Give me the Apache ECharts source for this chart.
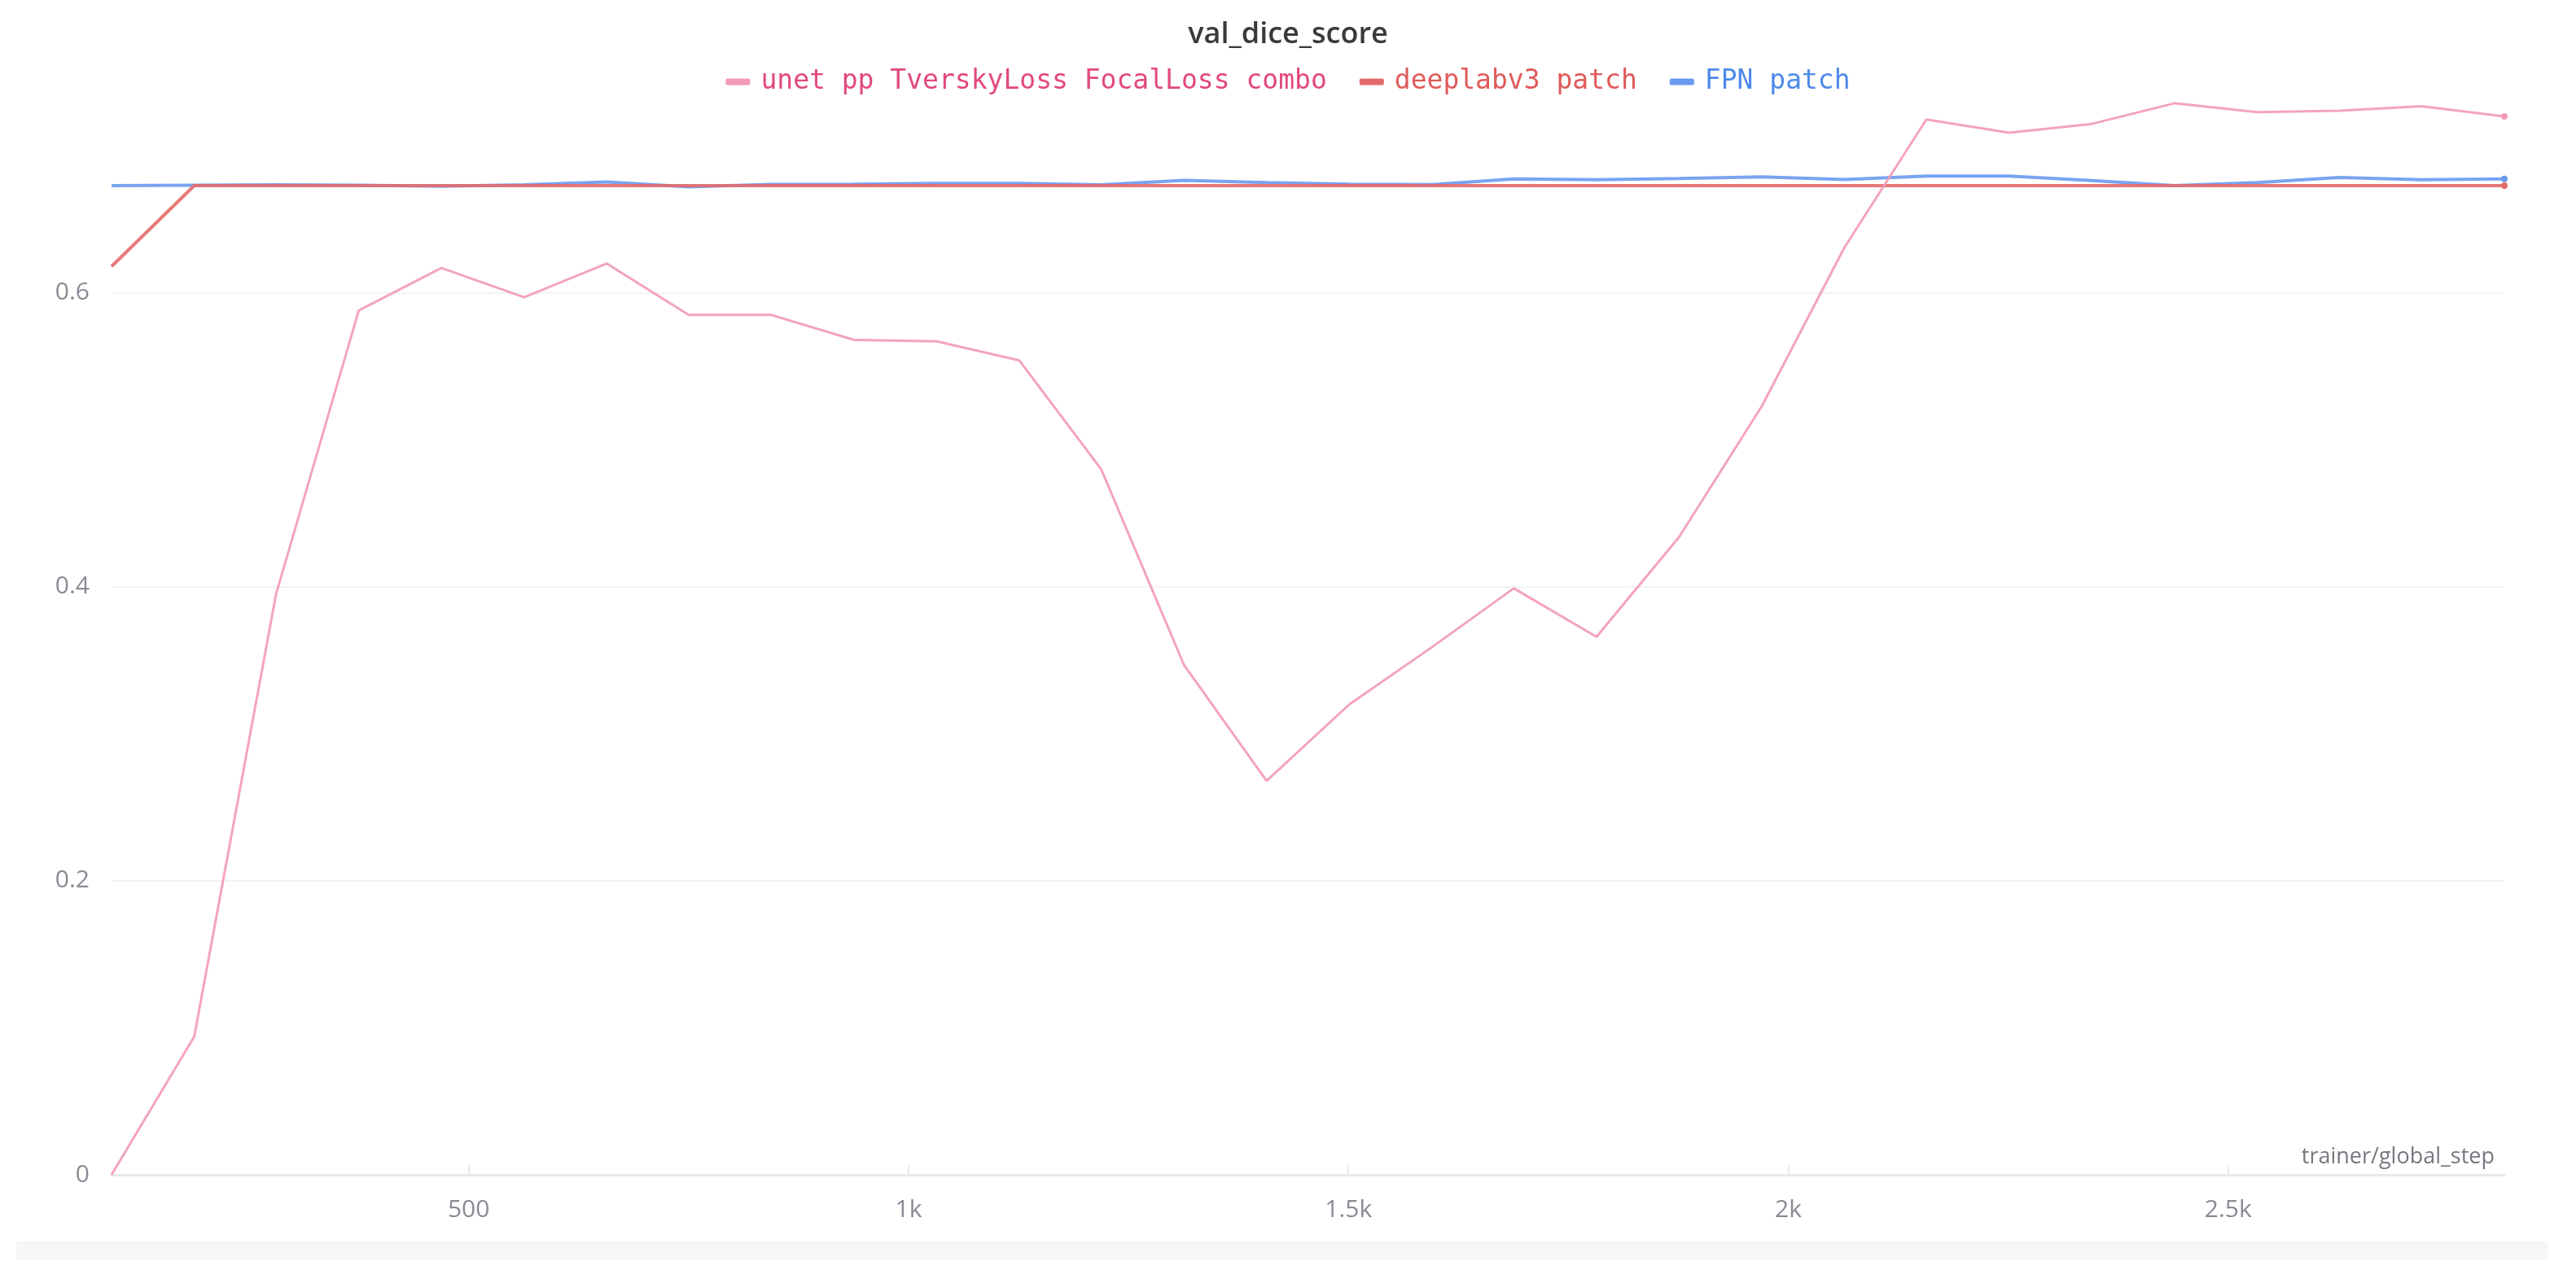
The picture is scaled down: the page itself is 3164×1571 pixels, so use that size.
<!DOCTYPE html>
<html lang="en">

<head>
  <meta charset="UTF-8">
  <title>val_dice_score</title>
  <script src="https://cdn.jsdelivr.net/npm/echarts@6/dist/echarts.min.js"></script>
</head>
<style>
  * {
    margin: 0px;
    padding: 0px;
  }

  #chart {
    width: 3164px;
    height: 1571px;
    background: #fff;
  }
</style>

<body>
  <div id="chart"></div>
</body>
<script>
  // trainer/global_step
  var steps = [94, 188, 281, 375, 469, 563, 657, 750, 844, 938, 1032, 1126, 1219, 1313, 1407,
    1501, 1595, 1688, 1782, 1876, 1970, 2064, 2157, 2251, 2345, 2439, 2533, 2626, 2720, 2814];

  var unetCombo = [0, 0.094, 0.395, 0.588, 0.617, 0.597, 0.620, 0.585, 0.585, 0.568, 0.567, 0.554,
    0.480, 0.347, 0.268, 0.320, 0.359, 0.399, 0.366, 0.434, 0.523, 0.631, 0.718, 0.709, 0.715,
    0.729, 0.723, 0.724, 0.727, 0.720];

  var deeplabPatch = [0.618, 0.673, 0.673, 0.673, 0.673, 0.673, 0.673, 0.673, 0.673, 0.673,
    0.673, 0.673, 0.673, 0.673, 0.673, 0.673, 0.673, 0.673, 0.673, 0.673, 0.673, 0.673, 0.673,
    0.673, 0.673, 0.673, 0.673, 0.673, 0.673, 0.673];

  var fpnPatch = [0.673, 0.6733, 0.6735, 0.6733, 0.6725, 0.6735, 0.6755, 0.6722, 0.6738, 0.674,
    0.6745, 0.6745, 0.6735, 0.6766, 0.675, 0.674, 0.6737, 0.6775, 0.677, 0.6778, 0.679, 0.6772,
    0.6795, 0.6795, 0.6765, 0.673, 0.675, 0.6785, 0.677, 0.6775];

  var yTicks = ['0', '0.2', '0.4', '0.6'];

  var names = ['unet pp TverskyLoss FocalLoss combo', 'deeplabv3 patch', 'FPN patch'];
  var lineColors = ['#F29AB6', '#E46A6A', '#6A9AEE'];
  var textColors = ['#E2487E', '#E05A5A', '#4F8AEA'];

  function pairs(ys) {
    return ys.map(function (y, i) { return [steps[i], y]; });
  }

  function makeSeries(idx, ys, width) {
    var last = ys.length - 1;
    return {
      name: names[idx],
      type: 'line',
      data: pairs(ys),
      showSymbol: false,
      symbol: 'none',
      color: lineColors[idx],
      lineStyle: { width: width, color: lineColors[idx], opacity: 0.9 },
      emphasis: { disabled: true },
      markPoint: {
        symbol: 'circle',
        symbolSize: 8,
        itemStyle: { color: lineColors[idx] },
        label: { show: false },
        data: [{ coord: [steps[last], ys[last]] }]
      }
    };
  }

  var chart = echarts.init(document.getElementById('chart'));
  chart.setOption({
    animation: false,
    title: {
      text: 'val_dice_score',
      left: 'center',
      top: 20,
      textStyle: {
        fontFamily: 'Open Sans',
        fontWeight: 600,
        fontSize: 36,
        color: '#3a3a3a'
      }
    },
    legend: {
      top: 79,
      left: 'center',
      icon: 'roundRect',
      itemWidth: 30,
      itemHeight: 8,
      itemGap: 40,
      textStyle: {
        fontFamily: 'DejaVu Sans Mono',
        fontSize: 33,
        padding: [0, 0, 0, 8]
      },
      data: names.map(function (n, i) {
        return { name: n, itemStyle: { color: lineColors[i] }, textStyle: { color: textColors[i] } };
      })
    },
    grid: {
      left: 137,
      right: 88,
      top: 107,
      bottom: 128
    },
    xAxis: {
      type: 'value',
      min: steps[0],
      max: steps[steps.length - 1],
      splitNumber: 5,
      name: 'trainer/global_step',
      nameLocation: 'end',
      nameGap: -12,
      nameTextStyle: {
        align: 'right',
        verticalAlign: 'bottom',
        fontFamily: 'Open Sans',
        fontSize: 27,
        color: '#777780',
        padding: [0, 0, 8, 0]
      },
      axisLine: { show: true, lineStyle: { color: '#e8e8ec', width: 3 } },
      axisTick: { show: true, length: 12, inside: true, lineStyle: { color: '#e8e8ec', width: 2 } },
      splitLine: { show: false },
      axisLabel: {
        showMinLabel: false,
        showMaxLabel: false,
        margin: 28,
        fontFamily: 'Open Sans',
        fontSize: 30,
        color: '#8a8a94',
        formatter: function (v) {
          return v >= 1000 ? (v / 1000) + 'k' : String(v);
        }
      }
    },
    yAxis: {
      type: 'value',
      min: 0,
      max: 0.74,
      interval: 0.2,
      axisLine: { show: false },
      axisTick: { show: false },
      splitLine: { showMaxLine: false, lineStyle: { color: '#f3f3f5', width: 2 } },
      axisLabel: {
        showMaxLabel: false,
        margin: 27,
        fontFamily: 'Open Sans',
        fontSize: 30,
        color: '#8a8a94',
        formatter: function (v) {
          var i = Math.round(v / 0.2);
          return yTicks[i] !== undefined ? yTicks[i] : '';
        }
      }
    },
    graphic: [{
      type: 'rect',
      left: 20,
      top: 1525,
      shape: { width: 3110, height: 22 },
      style: { fill: '#f5f6f8' },
      silent: true
    }],
    series: [
      makeSeries(2, fpnPatch, 4),
      makeSeries(1, deeplabPatch, 4),
      makeSeries(0, unetCombo, 3)
    ]
  });
</script>

</html>
